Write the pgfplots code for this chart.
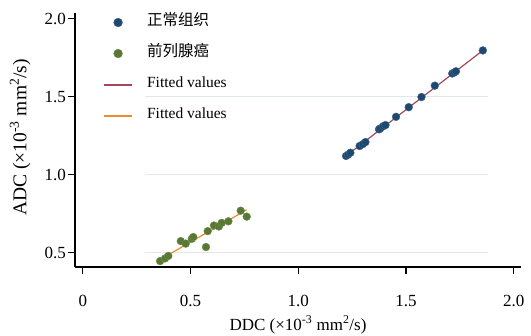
\documentclass[border=0pt]{standalone}
\usepackage{fontspec}
\setmainfont{Liberation Serif}
\newfontfamily\cjk{Noto Sans CJK SC}
\usepackage{pgfplots}
\pgfplotsset{compat=1.18}
\definecolor{snavy}{RGB}{30,72,112}
\definecolor{sgreen}{RGB}{88,120,52}
\definecolor{fitmaroon}{RGB}{165,70,95}
\definecolor{fitorange}{RGB}{235,140,45}
\definecolor{sgrid}{RGB}{226,231,234}
\pgfplotsset{
  scatlegend/.style={legend image code/.code={\draw[mark repeat=2,mark phase=2,##1,mark size=4.4pt] plot coordinates {(0pt,0pt) (14pt,0pt) (28pt,0pt)};}},
  maroonleg/.style={legend image code/.code={\draw[draw=fitmaroon,line width=2pt] (0pt,0pt) -- (28pt,0pt);}},
  orangeleg/.style={legend image code/.code={\draw[draw=fitorange,line width=2pt] (0pt,0pt) -- (28pt,0pt);}},
}
\begin{document}
\begin{tikzpicture}
\begin{axis}[name=ax,
  scale only axis, width=446pt, height=254pt,
  xmin=-0.036, xmax=2.034, ymin=0.407, ymax=2.036,
  axis lines*=left,
  axis line style={line width=1.2pt, black},
  tick align=outside,
  major tick length=7pt,
  major tick style={line width=1.2pt, black},
  xtick={0,0.5,1,1.5,2}, xticklabels={0,0.5,1.0,1.5,2.0},
  ytick={0.5,1,1.5,2}, yticklabels={0.5,1.0,1.5,2.0},
  tick label style={font=\fontsize{17}{19}\selectfont},
  xticklabel style={yshift=-18pt},
  yticklabel style={inner sep=2pt},
  xlabel={DDC (×10\textsuperscript{-3} mm\textsuperscript{2}/s)},
  ylabel={ADC (×10\textsuperscript{-3} mm\textsuperscript{2}/s)},
  xlabel style={font=\fontsize{17}{19}\selectfont, at={(axis description cs:0.5,-0.228)}, anchor=center},
  ylabel style={font=\fontsize{19.5}{21}\selectfont, at={(axis description cs:-0.123,0.51)}, anchor=center},
  clip=false,
  legend cell align=left,
  legend style={draw=none, fill=none, inner sep=0pt, outer sep=0pt,
    at={(0.063,0.99)}, anchor=north west,
    font=\fontsize{15.5}{18}\selectfont,
    row sep=17pt,
    nodes={inner sep=0pt, text height=10pt, text depth=4pt},
    /tikz/every odd column/.append style={column sep=14pt}},
]
\draw[sgrid, line width=0.8pt] (axis cs:0.289,0.5) -- (axis cs:1.881,0.5);
\draw[sgrid, line width=0.8pt] (axis cs:0.289,1.0) -- (axis cs:1.881,1.0);
\draw[sgrid, line width=0.8pt] (axis cs:0.289,1.5) -- (axis cs:1.881,1.5);

\addplot[only marks, mark=*, mark size=3.9pt, mark options={draw=snavy!85, fill=snavy}, scatlegend]
coordinates {
(1.222,1.119) (1.232,1.128) (1.242,1.140) (1.285,1.183) (1.300,1.195) (1.312,1.208)
(1.375,1.290) (1.381,1.296) (1.395,1.310) (1.405,1.317) (1.454,1.370) (1.513,1.432)
(1.572,1.497) (1.634,1.570) (1.715,1.648) (1.725,1.655) (1.732,1.662) (1.857,1.796)
};
\addlegendentry{\cjk 正常组织}

\addplot[only marks, mark=*, mark size=3.9pt, mark options={draw=sgreen!85, fill=sgreen}, scatlegend]
coordinates {
(0.359,0.445) (0.382,0.462) (0.397,0.478) (0.455,0.573) (0.478,0.557) (0.506,0.588)
(0.513,0.599) (0.572,0.535) (0.580,0.637) (0.609,0.673) (0.632,0.667) (0.645,0.690)
(0.676,0.700) (0.733,0.768) (0.761,0.730)
};
\addlegendentry{\cjk 前列腺癌}

\addplot[draw=fitmaroon, line width=1.2pt, maroonleg] coordinates {(1.218,1.115) (1.857,1.796)};
\addlegendentry{Fitted values}

\addplot[draw=fitorange, line width=1.2pt, orangeleg] coordinates {(0.359,0.455) (0.761,0.774)};
\addlegendentry{Fitted values}
\end{axis}
\pgfresetboundingbox
\path ([xshift=-75pt,yshift=-69pt]ax.south west) rectangle ([xshift=456pt,yshift=267pt]ax.south west);
\end{tikzpicture}
\end{document}
